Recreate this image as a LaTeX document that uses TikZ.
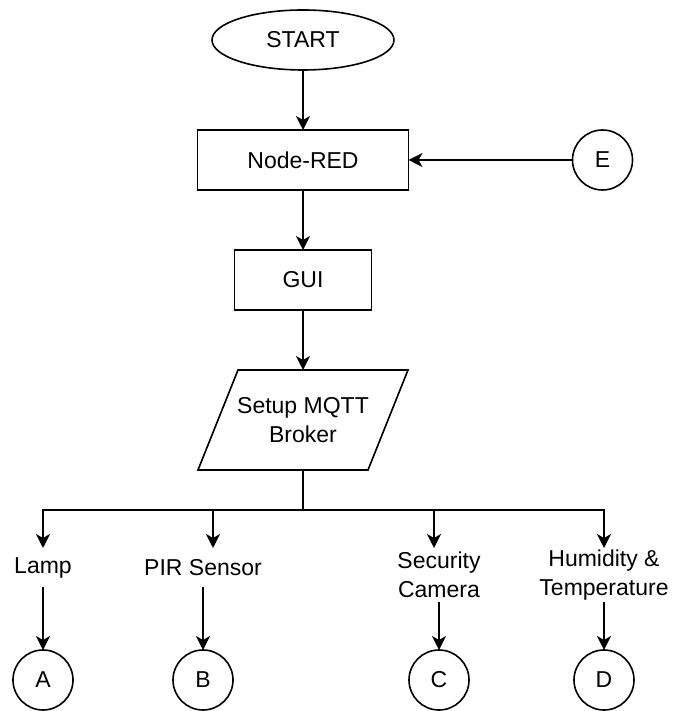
\documentclass[tikz,border=0pt]{standalone}
\usepackage{fontspec}
\setmainfont{Liberation Sans}
\usetikzlibrary{arrows.meta,positioning,shapes.geometric}

\begin{document}
\begin{tikzpicture}[
  every node/.style={font=\fontsize{11.5}{14.5}\selectfont, outer sep=0pt},
  term/.style={ellipse, draw, line width=0.8pt,
               minimum width=91pt, minimum height=30pt, inner sep=0pt},
  proc/.style={rectangle, draw, line width=0.8pt,
               minimum height=30pt, inner sep=0pt},
  io/.style={rectangle, minimum width=85pt, minimum height=50pt,
             align=center, inner sep=0pt},
  conn/.style={circle, draw, line width=0.8pt, minimum size=30pt, inner sep=0pt},
  lbl/.style={align=center, inner sep=0pt, minimum height=19.5pt},
  lbltwo/.style={lbl, minimum height=27pt},
  arr/.style={-{Stealth[length=7pt,width=7pt,inset=2pt]}, line width=0.8pt},
  node distance=30pt
]
  \useasboundingbox (0,0) rectangle (338pt,355.5pt);
  \node[term] (start) at (151.5pt,335.5pt) {START};
  \node[proc, minimum width=105.5pt, below=of start] (nodered) {Node-RED};
  \node[conn, right=82pt of nodered] (e) {E};
  \node[proc, minimum width=68.5pt, below=of nodered] (gui) {GUI};
  \node[io, below=of gui] (mqtt) {Setup MQTT\\Broker};
  \draw[line width=0.8pt] ([xshift=10pt]mqtt.north west) -- ([xshift=10pt]mqtt.north east)
    -- ([xshift=-10pt]mqtt.south east) -- ([xshift=-10pt]mqtt.south west) -- cycle;
  \coordinate (bus) at (151.5pt,100.5pt);
  \node[lbl] (lamp) at (21.5pt,71.75pt) {Lamp};
  \node[lbl] (pir) at (101.5pt,71.75pt) {PIR Sensor};
  \node[lbltwo] (cam) at (219.5pt,68pt) {Security\\Camera};
  \node[lbltwo] (hum) at (302pt,68pt) {Humidity \&\\Temperature};
  \node[conn] (a) at (21.5pt,15.5pt) {A};
  \node[conn] (b) at (101.5pt,15.5pt) {B};
  \node[conn] (c) at (219.5pt,15.5pt) {C};
  \node[conn] (d) at (302pt,15.5pt) {D};
  \draw[arr] (start) -- (nodered);
  \draw[arr] (nodered) -- (gui);
  \draw[arr] (e) -- (nodered);
  \draw[arr] (gui) -- (mqtt);
  \draw[arr] (mqtt.south) -- (bus) -| (lamp.north);
  \draw[arr] (bus) -| ([xshift=5pt]pir.north);
  \draw[arr] (bus) -| ([xshift=-2.5pt]cam.north);
  \draw[arr] (bus) -| (hum.north);
  \draw[arr] (lamp) -- (a);
  \draw[arr] (pir) -- (b);
  \draw[arr] (cam) -- (c);
  \draw[arr] (hum) -- (d);
\end{tikzpicture}
\end{document}
